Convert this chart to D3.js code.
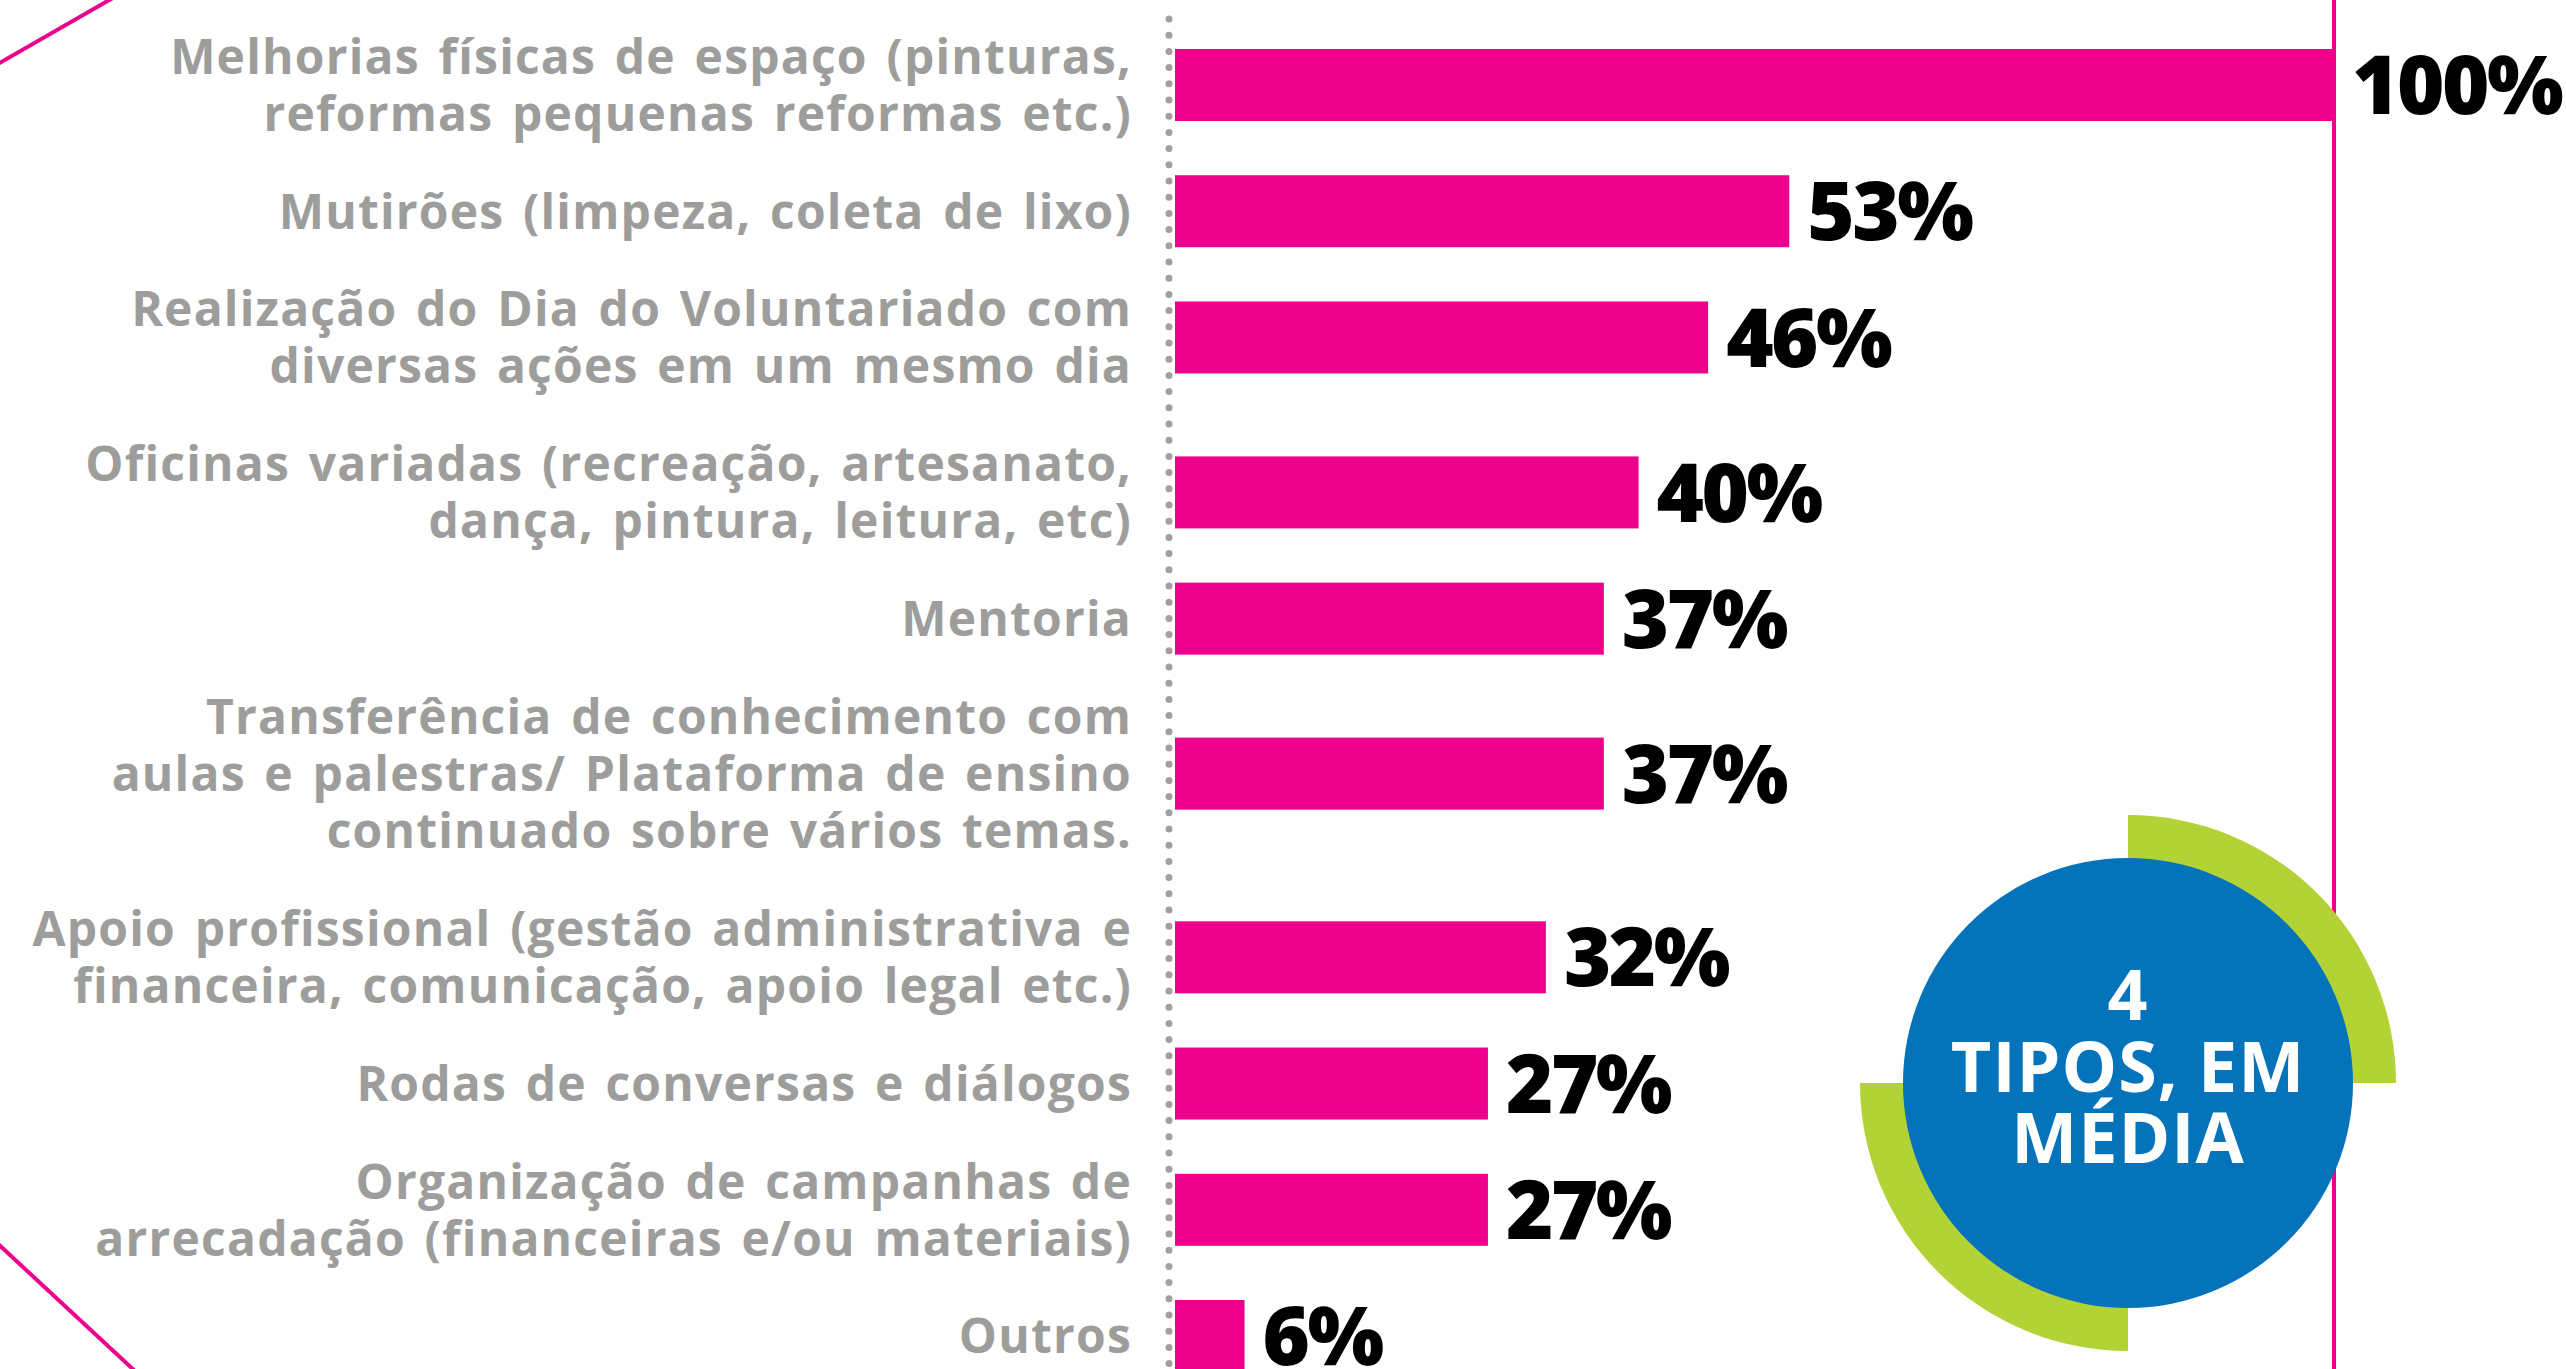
<!DOCTYPE html>
<html>
<head>
<meta charset="utf-8">
<script src="https://cdn.jsdelivr.net/npm/d3@7"></script>
<style>
  html, body { margin: 0; padding: 0; background: #ffffff; overflow: hidden; }
  svg { display: block; }
</style>
</head>
<body>
<script>
// ---------- DATA ----------
const categories = [
  "Melhorias físicas de espaço (pinturas,\nreformas pequenas reformas etc.)",
  "Mutirões (limpeza, coleta de lixo)",
  "Realização do Dia do Voluntariado com\ndiversas ações em um mesmo dia",
  "Oficinas variadas (recreação, artesanato,\ndança, pintura, leitura, etc)",
  "Mentoria",
  "Transferência de conhecimento com\naulas e palestras/ Plataforma de ensino\ncontinuado sobre vários temas.",
  "Apoio profissional (gestão administrativa e\nfinanceira, comunicação, apoio legal etc.)",
  "Rodas de conversas e diálogos",
  "Organização de campanhas de\narrecadação (financeiras e/ou materiais)",
  "Outros"
];
const values = [100, 53, 46, 40, 37, 37, 32, 27, 27, 6];
const valueDomain = [0, 100];
const badgeLines = ["4", "TIPOS, EM", "MÉDIA"];

// ---------- LAYOUT ----------
const W = 2566, H = 1369;
const PINK = "#EC008C", GRAY = "#9d9d9c", BLUE = "#0473BA", GREEN = "#B3D236";
const labelFont = "'Open Sans', 'DejaVu Sans', sans-serif";

const svg = d3.select("body").append("svg")
  .attr("width", W).attr("height", H).attr("viewBox", `0 0 ${W} ${H}`);

const rows = categories.map((c, i) => ({ lines: c.split("\n"), value: values[i] }));

// cumulative slot position depending on number of label lines
const gapUnits = 0.696;
let acc = 0;
rows.forEach((r, i) => {
  if (i > 0) acc += (rows[i - 1].lines.length + r.lines.length) / 2 + gapUnits;
  r.u = acc;
});
const y = d3.scaleLinear().domain([0, acc]).range([85, 1336]);
const x = d3.scaleLinear().domain(valueDomain).range([1175, 2334]);

const barH = 72, lineH = 57;

// decorative pink diagonals
svg.append("line").attr("x1", -4).attr("y1", 65).attr("x2", 118).attr("y2", -5)
  .attr("stroke", PINK).attr("stroke-width", 4);
svg.append("line").attr("x1", -4).attr("y1", 1242).attr("x2", 136).attr("y2", 1372)
  .attr("stroke", PINK).attr("stroke-width", 4);

// dotted baseline
svg.append("line").attr("x1", 1169).attr("x2", 1169).attr("y1", 19).attr("y2", H + 10)
  .attr("stroke", "#a0a0a0").attr("stroke-width", 7)
  .attr("stroke-linecap", "round").attr("stroke-dasharray", "0 16.2");

// 100% reference line
svg.append("line").attr("x1", x(100)).attr("x2", x(100)).attr("y1", 0).attr("y2", H)
  .attr("stroke", PINK).attr("stroke-width", 4);

// bars
svg.append("g").selectAll("rect").data(rows).join("rect")
  .attr("x", x(0)).attr("y", d => y(d.u) - barH / 2)
  .attr("width", d => x(d.value) - x(0)).attr("height", barH)
  .attr("fill", PINK);

// value labels
svg.append("g").selectAll("text").data(rows).join("text")
  .attr("x", d => x(d.value) + 18).attr("y", d => y(d.u))
  .attr("dy", "0.36em")
  .attr("font-family", labelFont).attr("font-weight", 800)
  .attr("font-size", 81).attr("fill", "#000")
  .attr("letter-spacing", -2.5)
  .text(d => d.value + "%");

// category labels
const lab = svg.append("g").selectAll("text").data(rows).join("text")
  .attr("text-anchor", "end")
  .attr("font-family", labelFont).attr("font-weight", 700)
  .attr("font-size", 48).attr("fill", GRAY)
  .attr("letter-spacing", 1.2).attr("word-spacing", 5);
lab.selectAll("tspan").data(d => d.lines.map((t, i) => ({ t, i, n: d.lines.length, c: y(d.u) })))
  .join("tspan")
  .attr("x", 1132)
  .attr("y", d => d.c + (d.i - (d.n - 1) / 2) * lineH)
  .attr("dy", "0.36em")
  .text(d => d.t);

// badge
const cx = 2128, cy = 1083, rIn = 225, rOut = 268;
const arc = d3.arc().innerRadius(rIn - 5).outerRadius(rOut);
const badge = svg.append("g").attr("transform", `translate(${cx},${cy})`);
badge.append("path").attr("d", arc({ startAngle: 0, endAngle: Math.PI / 2 })).attr("fill", GREEN);
badge.append("path").attr("d", arc({ startAngle: Math.PI, endAngle: 1.5 * Math.PI })).attr("fill", GREEN);
badge.append("circle").attr("r", rIn).attr("fill", BLUE);
badge.selectAll("text").data(badgeLines).join("text")
  .attr("text-anchor", "middle")
  .attr("x", 0).attr("y", (d, i) => -63 + i * 71.5)
  .attr("font-family", labelFont).attr("font-weight", 700)
  .attr("font-size", 70).attr("fill", "#fff")
  .attr("letter-spacing", 1)
  .text(d => d);
</script>
</body>
</html>
